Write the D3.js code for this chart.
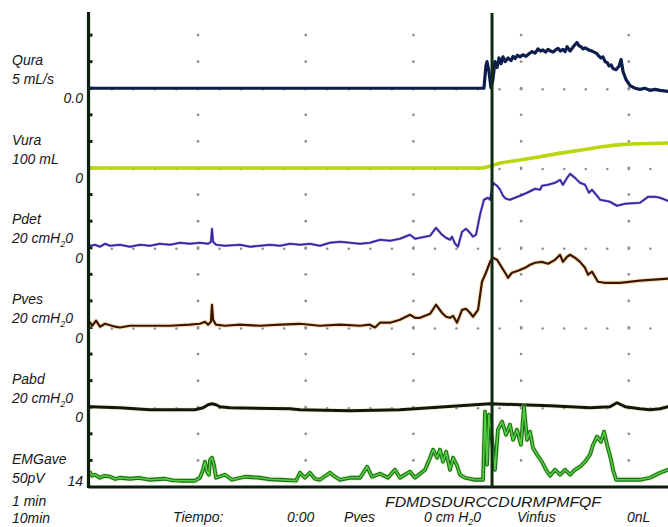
<!DOCTYPE html>
<html><head><meta charset="utf-8">
<script src="https://cdn.jsdelivr.net/npm/d3@7"></script>
<style>
body{margin:0;background:#fff}
svg text{font-family:"Liberation Sans",Arial,sans-serif;font-style:italic;font-size:14px;fill:#161616}
</style>
</head><body>
<svg id="chart" width="668" height="527"></svg>
<script>
// ---- channel labels ----
const channelNames = ["Qura","Vura","Pdet","Pves","Pabd","EMGave"];
const channelScales = ["5 mL/s","100 mL","20 cmH|2|0","20 cmH|2|0","20 cmH|2|0","50pV"];
const channelZeros = ["0.0","0","0","0","0","14"];
const unitsPerDiv = [5,100,20,20,20,50];
const markerText = "FDMDSDURCCDURMPMFQF";
const footerLeft = ["1 min","10min"];
const footerItems = ["Tiempo:","0:00","Pves","0 cm H|2|0","Vinfus","0nL"];
const minuteTicks = [60,120,180,240,300];
const cursorTime = 223.8;

// ---- traces: [time s, value] ----
const quraData = [[0,0],[219.3,0],[220.4,4.2],[221.0,5.0],[222.1,3.1],[223.2,0.1],[224.3,1.6],[225.4,5.0],[226.6,3.9],[227.7,5.7],[228.8,4.6],[229.9,5.9],[231.1,5.0],[232.7,5.7],[234.4,5.2],[235.5,6.0],[236.6,5.6],[238.0,6.2],[239.4,5.9],[241.0,6.3],[242.7,6.0],[244.4,6.5],[246.1,6.9],[247.8,6.6],[249.4,7.4],[250.8,7.0],[252.2,7.2],[253.6,6.8],[255.0,7.3],[256.4,7.0],[257.8,6.8],[259.2,7.2],[260.6,7.5],[262.0,7.0],[263.3,7.3],[264.5,6.9],[265.6,7.8],[267.3,7.0],[268.4,7.5],[269.5,8.0],[271.1,8.6],[272.2,8.0],[273.4,7.8],[274.5,7.4],[275.6,7.6],[277.8,7.2],[280.1,6.9],[282.3,6.5],[283.4,6.0],[284.5,5.7],[285.6,5.9],[286.8,5.0],[288.0,4.8],[289.0,4.2],[290.1,4.4],[291.2,3.7],[292.9,3.5],[294.6,4.2],[295.7,5.4],[296.8,3.1],[298.5,1.6],[300.7,0.5],[303.5,0],[306.2,-0.2],[309.0,0],[311.8,-0.4],[314.6,-0.2],[317.4,-0.4],[321.8,-0.6]];
const vuraData = [[0,0],[218.8,0],[222.7,7],[228.3,19],[239.4,30],[250.5,42],[261.7,56],[272.8,67],[284.0,79],[292.3,86],[300.7,90],[321.8,94]];
const pdetData = [[0,1.5],[2.6,2.3],[5.4,0.8],[8.2,3.0],[11.0,1.5],[16.5,2.3],[22.1,0.8],[27.7,2.3],[33.3,1.5],[38.8,3.0],[44.4,2.3],[50.0,3.8],[55.5,3.0],[61.1,3.8],[65.6,3.0],[67.2,4.5],[67.8,14.3],[68.4,4.5],[70.0,2.3],[75.0,1.5],[83.4,2.3],[89.0,0.8],[94.5,1.5],[100.1,2.3],[105.7,1.5],[111.3,3.0],[116.8,2.3],[122.3,3.0],[127.9,1.5],[133.5,3.8],[139.1,4.5],[144.7,3.8],[150.3,3.0],[155.8,3.8],[161.4,6.0],[167.0,5.3],[172.5,6.8],[178.1,9.8],[180.9,6.8],[183.7,7.5],[189.3,9.0],[192.6,15.0],[195.9,9.8],[198.2,7.5],[200.4,6.0],[201.5,8.3],[203.2,3.0],[204.8,0.8],[207.1,12.0],[209.3,14.3],[211.5,11.3],[213.2,8.3],[214.9,9.8],[217.1,24.8],[219.3,36.1],[221.5,37.6],[222.7,36.1],[224.3,48.9],[226.6,46.6],[228.3,43.6],[229.9,39.1],[231.6,36.8],[233.8,36.1],[236.6,37.6],[239.4,39.1],[243.3,41.4],[247.8,44.4],[250.5,43.6],[251.6,46.6],[255.0,47.4],[258.9,48.9],[261.7,51.1],[263.3,47.4],[265.6,52.6],[267.3,55.6],[270.0,52.6],[272.8,48.9],[275.6,47.4],[277.8,41.4],[279.5,43.6],[282.3,39.1],[284.0,36.1],[289.5,34.6],[293.4,31.6],[297.9,33.1],[306.2,33.8],[310.7,38.3],[314.6,38.3],[317.4,37.6],[321.8,35.3]];
const pvesData = [[0,3.6],[1.0,1.3],[3.2,5.1],[5.4,0.6],[8.2,2.8],[13.8,0.6],[16.5,0],[22.1,1.3],[33.3,1.3],[44.4,1.3],[55.5,2.1],[61.1,2.8],[63.9,4.3],[65.6,2.1],[67.2,4.3],[67.8,17.1],[68.4,5.8],[70.0,2.1],[75.0,1.3],[83.4,2.1],[94.5,1.3],[105.7,2.1],[116.8,2.8],[127.9,1.3],[139.1,2.1],[150.3,1.3],[155.8,2.1],[158.6,0],[161.4,3.6],[167.0,3.6],[172.5,5.8],[178.1,9.6],[180.9,7.3],[183.7,7.3],[189.3,10.3],[192.6,17.1],[195.9,11.1],[198.2,8.1],[200.4,7.3],[202.1,8.8],[204.3,3.6],[207.1,13.3],[209.3,14.1],[211.5,11.1],[213.2,8.1],[216.0,13.3],[218.2,34.4],[220.4,41.2],[222.7,49.4],[224.3,52.5],[226.6,51.0],[229.4,44.9],[231.1,41.2],[232.7,37.4],[234.9,41.2],[238.3,42.7],[242.2,44.9],[245.0,47.2],[247.8,48.7],[251.6,49.4],[255.0,48.0],[258.9,50.9],[261.7,54.7],[263.3,49.4],[265.6,53.2],[267.3,54.7],[270.0,52.5],[272.8,49.4],[275.6,44.9],[277.3,39.7],[279.5,42.0],[282.8,34.4],[286.8,33.6],[295.1,33.6],[306.2,35.2],[321.8,36.7]];
const pabdData = [[0,0.4],[16.5,-0.4],[33.3,-1.9],[58.3,-1.9],[62.8,-0.4],[65.6,1.9],[67.8,2.6],[70.0,1.9],[72.2,0.4],[77.8,-0.4],[111.3,-1.1],[116.8,-1.9],[144.7,-2.6],[172.5,-1.9],[189.3,-0.4],[206.0,1.1],[222.7,2.6],[239.4,1.9],[256.1,1.1],[267.3,0.4],[278.4,-0.4],[289.5,0.4],[293.4,3.4],[297.9,0.4],[306.2,-1.1],[311.8,-1.9],[317.4,-1.1],[321.8,0.4]];
const emgData = [[0,26.8],[1.0,21.2],[2.6,23.0],[5.4,17.4],[8.0,21.0],[11.0,19.3],[14.0,15.0],[16.5,17.4],[22.1,15.5],[27.0,17.0],[33.3,13.6],[41.6,15.5],[46.0,12.5],[50.0,11.8],[58.3,11.8],[61.1,17.4],[62.8,32.4],[63.9,47.5],[65.0,28.7],[66.1,23.0],[66.7,51.3],[67.8,55.0],[68.9,41.9],[70.0,17.4],[75.0,23.0],[78.9,13.6],[86.2,19.3],[94.5,17.4],[100.0,14.5],[105.7,13.6],[114.6,11.8],[116.8,26.8],[119.6,17.4],[122.3,26.8],[125.1,15.5],[127.9,13.6],[133.5,26.8],[136.3,19.3],[139.1,13.6],[144.7,17.4],[150.3,17.4],[154.2,38.1],[156.9,19.3],[161.4,24.9],[165.8,17.4],[169.7,32.4],[172.5,17.4],[178.1,28.7],[180.9,17.4],[183.7,24.9],[186.5,32.4],[189.3,55.0],[191.0,70.1],[193.2,55.0],[194.8,70.1],[196.5,47.5],[198.2,66.3],[200.4,32.4],[202.1,55.0],[204.3,40.0],[206.0,23.0],[208.7,17.4],[214.3,13.6],[218.8,13.6],[219.9,141.6],[221.0,41.9],[222.1,136.0],[223.8,88.9],[225.4,32.4],[227.1,107.7],[229.4,122.8],[231.6,98.3],[233.8,117.1],[235.5,88.9],[237.7,107.7],[239.9,79.5],[241.6,151.0],[243.3,88.9],[245.0,103.9],[246.6,73.8],[248.9,60.7],[251.6,47.5],[253.9,32.4],[256.1,21.2],[258.9,32.4],[261.7,23.0],[264.5,32.4],[267.3,23.0],[270.0,32.4],[272.8,38.1],[275.6,47.5],[278.4,60.7],[280.1,79.5],[282.3,94.6],[284.5,85.2],[286.2,103.9],[287.9,79.5],[290.1,51.3],[291.2,32.4],[292.9,13.6],[297.9,13.6],[306.2,13.6],[311.8,17.4],[317.4,26.8],[321.8,32.4]];

// ---- layout ----
const svg = d3.select("#chart");
const bandTop = 8.5, bandH = 79.75, divH = bandH/3;
const axisX = 88.5, plotRight = 668, bottomY = bandTop + 6*bandH;
const x = d3.scaleLinear().domain([0,323]).range([90.3,670.1]);
const baseline = i => bandTop + bandH*(i+1);
const yScales = unitsPerDiv.map((u,i)=>d3.scaleLinear().domain([0,3*u]).range([baseline(i), baseline(i)-bandH]));

// dotted grid
const gGrid = svg.append("g");
const levels = [];
for(let i=0;i<6;i++){ for(let k=0;k<3;k++){ const yy = baseline(i)-k*divH; if(yy>30 && yy<bottomY-5) levels.push(yy);} }
minuteTicks.forEach(t=>{
  levels.forEach(yy=>gGrid.append("circle").attr("cx",x(t)).attr("cy",yy).attr("r",1.4).attr("fill","#909090"));
});
const dotTimes = d3.range(12,323,12);
for(let i=0;i<5;i++){
  dotTimes.forEach(t=>gGrid.append("circle").attr("cx",x(t)).attr("cy",baseline(i)+1).attr("r",1.3).attr("fill","#909090"));
}

// left axis ticks
levels.forEach(yy=>svg.append("line").attr("x1",axisX).attr("x2",axisX+4).attr("y1",yy).attr("y2",yy).attr("stroke","#0c1e0c").attr("stroke-width",3));

// traces
const datasets = [quraData,vuraData,pdetData,pvesData,pabdData,emgData];
const styles = [
  [{c:"#0d1d4d",w:3.2}],
  [{c:"#bcd60e",w:3.6}],
  [{c:"#4a36c0",w:2.6,o:0.6},{c:"#34239a",w:1.5}],
  [{c:"#f0d070",w:4.5,o:0.45},{c:"#3d1407",w:2.2}],
  [{c:"#e8e27a",w:5,o:0.3},{c:"#0f170f",w:3}],
  [{c:"#b9e87a",w:6,o:0.35},{c:"#1e6a1e",w:3.8},{c:"#52cf3e",w:1.6}]
];
datasets.forEach((d,i)=>{
  const line = d3.line().x(p=>x(p[0])).y(p=>yScales[i](p[1]));
  styles[i].forEach(s=>{
    svg.append("path").datum(d).attr("d",line).attr("fill","none")
      .attr("stroke",s.c).attr("stroke-width",s.w).attr("stroke-opacity",s.o||1)
      .attr("stroke-linejoin","round").attr("stroke-linecap","round");
  });
});

// axes lines
svg.append("line").attr("x1",axisX).attr("x2",axisX).attr("y1",12).attr("y2",bottomY+1).attr("stroke","#0b1d0b").attr("stroke-width",3.2);
svg.append("line").attr("x1",axisX).attr("x2",plotRight).attr("y1",bottomY).attr("y2",bottomY).attr("stroke","#0b1d0b").attr("stroke-width",3);
svg.append("line").attr("x1",x(cursorTime)).attr("x2",x(cursorTime)).attr("y1",13).attr("y2",bottomY).attr("stroke","#0e2c10").attr("stroke-width",3);

// text helper with subscript marked by |..|
function addText(str, px, py, anchor, subDy){
  const sd = subDy || 4;
  const t = svg.append("text").attr("x",px).attr("y",py).attr("text-anchor",anchor||"start");
  const parts = str.split("|");
  if(parts.length===1){ t.text(str); return t; }
  t.append("tspan").text(parts[0]);
  t.append("tspan").attr("font-size","9px").attr("dy",sd).text(parts[1]);
  t.append("tspan").attr("dy",-sd).text(parts[2]);
  return t;
}

// channel labels
channelNames.forEach((n,i)=>{
  const b = baseline(i);
  addText(n, 12, b-23.5);
  addText(channelScales[i], 12, b-4.5);
  addText(channelZeros[i], 83, b+(i===5?-1:15), "end");
});
addText(footerLeft[0], 12, 506);
addText(footerLeft[1], 12, 523);
svg.append("text").attr("x",385).attr("y",507).attr("textLength",216).attr("lengthAdjust","spacingAndGlyphs").text(markerText);
const footX = [173,287,344,424,517,627];
footerItems.forEach((s,i)=>addText(s, footX[i], 522, "start", 2.5));
</script>
</body></html>
